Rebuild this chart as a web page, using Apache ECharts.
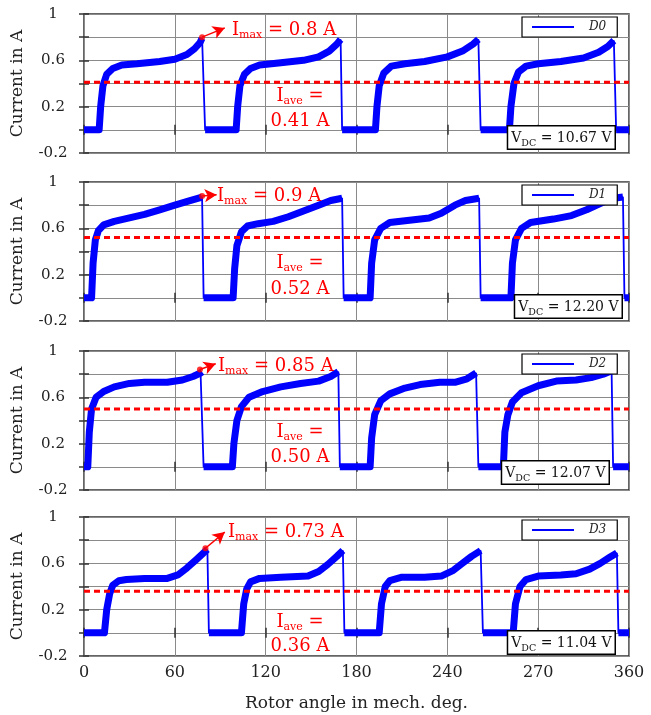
<!DOCTYPE html>
<html>
<head>
<meta charset="utf-8">
<script src="https://cdn.jsdelivr.net/npm/echarts@6/dist/echarts.min.js"></script>
<style>
  html, body { margin: 0; padding: 0; background: #fff; }
  #chart { width: 651px; height: 715px; }
</style>
</head>
<body>
<div id="chart"></div>
<script>
// phase currents, [rotor angle in deg, current in A]
const d0 = [[0, 0], [10, 0], [11, 0.2], [12.5, 0.38], [15, 0.48], [19, 0.53], [25, 0.56], [35, 0.57], [50, 0.59], [60, 0.61], [68, 0.65], [73, 0.7], [76.5, 0.75], [78, 0.79], [80, 0],
  [100.5, 0], [101.5, 0.2], [103, 0.38], [106, 0.48], [110, 0.53], [116, 0.56], [130, 0.58], [145, 0.6], [155, 0.63], [162, 0.68], [167, 0.74], [169.5, 0.78], [170.5, 0],
  [192.5, 0], [193.5, 0.2], [195, 0.38], [198, 0.49], [203, 0.55], [212, 0.57], [225, 0.59], [240, 0.63], [250, 0.68], [257, 0.74], [260.5, 0.78], [262, 0],
  [281, 0], [282, 0.2], [284, 0.4], [287, 0.5], [292, 0.55], [300, 0.57], [315, 0.59], [330, 0.62], [340, 0.67], [346, 0.72], [350, 0.77], [351.5, 0], [360, 0]]
const d1 = [[0, 0], [5, 0], [6, 0.3], [7.5, 0.5], [9.5, 0.58], [13, 0.63], [20, 0.66], [30, 0.69], [40, 0.72], [50, 0.76], [60, 0.8], [70, 0.84], [78, 0.87], [79, 0],
  [98.5, 0], [99.5, 0.25], [101, 0.45], [104, 0.57], [108, 0.62], [115, 0.64], [125, 0.66], [135, 0.7], [145, 0.75], [155, 0.8], [163, 0.84], [170.5, 0.86], [171.5, 0],
  [189, 0], [190, 0.3], [192, 0.5], [196, 0.6], [202, 0.65], [215, 0.67], [228, 0.69], [236, 0.73], [245, 0.8], [252, 0.84], [261, 0.86], [262, 0],
  [282, 0], [283, 0.3], [285, 0.5], [289, 0.6], [295, 0.65], [310, 0.68], [322, 0.71], [332, 0.76], [342, 0.82], [350, 0.86], [356, 0.87], [357, 0], [360, 0]]
const d2 = [[0, 0], [2.5, 0], [3.5, 0.3], [5, 0.5], [8, 0.6], [13, 0.65], [20, 0.69], [30, 0.72], [40, 0.73], [55, 0.73], [65, 0.75], [72, 0.78], [77, 0.81], [78, 0.82], [79, 0],
  [98, 0], [99, 0.2], [101, 0.4], [104, 0.52], [109, 0.6], [118, 0.65], [130, 0.69], [143, 0.72], [155, 0.74], [163, 0.78], [168, 0.82], [169, 0],
  [189, 0], [190, 0.25], [192, 0.45], [196, 0.57], [202, 0.63], [212, 0.68], [222, 0.71], [235, 0.73], [245, 0.73], [253, 0.76], [259, 0.81], [260.5, 0],
  [277, 0], [278, 0.3], [280, 0.45], [283, 0.56], [289, 0.64], [300, 0.7], [312, 0.74], [325, 0.75], [335, 0.77], [343, 0.8], [348.5, 0.83], [349.5, 0], [360, 0]]
const d3 = [[0, 0], [13.5, 0], [15, 0.2], [17, 0.34], [19, 0.41], [23, 0.45], [28, 0.46], [40, 0.47], [55, 0.47], [62, 0.5], [68, 0.56], [74, 0.63], [79, 0.69], [81.5, 0.72], [82.5, 0],
  [104, 0], [105.5, 0.25], [107.5, 0.38], [110, 0.44], [116, 0.47], [130, 0.48], [148, 0.49], [155, 0.53], [161, 0.59], [167, 0.66], [171, 0.71], [172, 0],
  [195, 0], [196.5, 0.25], [199, 0.4], [202, 0.45], [210, 0.48], [225, 0.48], [236, 0.49], [244, 0.54], [250, 0.6], [256, 0.66], [262, 0.71], [263.5, 0],
  [283.5, 0], [285, 0.25], [288, 0.4], [292, 0.46], [300, 0.49], [315, 0.5], [325, 0.51], [334, 0.55], [341, 0.6], [347, 0.65], [352, 0.69], [353, 0], [360, 0]]

const traces = [d0, d1, d2, d3]
const names = ['D0', 'D1', 'D2', 'D3']
const iMax = ['0.8', '0.9', '0.85', '0.73']
const iAve = [0.41, 0.52, 0.50, 0.36]
const iAveText = ['0.41', '0.52', '0.50', '0.36']
const vdc = ['10.67', '12.20', '12.07', '11.04']
const peakAt = [[78, 0.8], [78, 0.88], [76.6, 0.84], [80.2, 0.73]]
const arrowTo = [[93, 0.88], [87.6, 0.89], [87, 0.89], [93, 0.87]]
const xTicks = ['0', '60', '120', '180', '240', '270', '360']
const yTicks = ['-0.2', '0.2', '0.6', '1']

const FONT = 'DejaVu Serif'
const tops = [14, 182, 351, 517]
const gridH = 139
const imaxPos = [[232, 30], [217, 196], [218, 366], [228, 532]]
const iavePos = [[96, 121], [263, 289], [432, 457], [622, 646]]
const vdcPos = [[35, 125], [28, 294], [41, 460], [35, 630]]

// break the thick band at the falling edges so they stay thin
function band(data) {
  const out = []
  for (let k = 0; k < data.length; k++) {
    out.push(data[k])
    const next = data[k + 1]
    if (next && data[k][1] - next[1] > 0.3) out.push([data[k][0], null])
  }
  return out
}

const chart = echarts.init(document.getElementById('chart'))

const grid = [], xAxis = [], yAxis = [], series = [], legend = [], graphic = []

tops.forEach((top, i) => {
  grid.push({ left: 84, width: 545, top: top, height: gridH, show: true, borderColor: '#333', borderWidth: 1.5, backgroundColor: '#fff' })

  const tick = { show: true, inside: true, length: 5, lineStyle: { color: '#333', width: 1.5 } }
  xAxis.push({
    type: 'value', gridIndex: i, min: 0, max: 360, interval: 60,
    axisLine: { show: false }, axisTick: tick,
    splitLine: { show: true, lineStyle: { color: '#8a8a8a', width: 1 } },
    axisLabel: {
      show: i === 3, margin: 9, fontFamily: FONT, fontSize: 16, color: '#222',
      formatter: v => xTicks[Math.round(v / 60)]
    },
    name: i === 3 ? 'Rotor angle in mech. deg.' : '',
    nameLocation: 'middle', nameGap: 39,
    nameTextStyle: { fontFamily: FONT, fontSize: 17, color: '#222' }
  })
  xAxis.push({
    type: 'value', gridIndex: i, position: 'top', min: 0, max: 360, interval: 60,
    axisLine: { show: false }, axisTick: tick, axisLabel: { show: false }, splitLine: { show: false }
  })
  yAxis.push({
    type: 'value', gridIndex: i, min: -0.2, max: 1, interval: 0.2,
    axisLine: { show: false }, axisTick: tick,
    splitLine: { show: true, lineStyle: { color: '#8a8a8a', width: 1 } },
    axisLabel: {
      margin: 31, align: 'center', fontFamily: FONT, fontSize: 15, color: '#222',
      formatter: v => {
        const k = [-2, 2, 6, 10].indexOf(Math.round(v * 10))
        return k >= 0 ? yTicks[k] : ''
      }
    },
    name: 'Current in A', nameLocation: 'middle', nameGap: 58, nameRotate: 90,
    nameTextStyle: { fontFamily: FONT, fontSize: 17, color: '#222' }
  })
  yAxis.push({
    type: 'value', gridIndex: i, position: 'right', min: -0.2, max: 1, interval: 0.2,
    axisLine: { show: false }, axisTick: tick, axisLabel: { show: false }, splitLine: { show: false }
  })

  const xi = i * 2, yi = i * 2
  series.push({
    type: 'line', xAxisIndex: xi, yAxisIndex: yi, data: band(traces[i]),
    showSymbol: false, connectNulls: false, silent: true, z: 3,
    lineStyle: { color: '#0000ff', width: 7, cap: 'butt', join: 'round' }
  })
  series.push({
    name: names[i], type: 'line', xAxisIndex: xi, yAxisIndex: yi, data: traces[i],
    showSymbol: false, z: 3, itemStyle: { color: '#0000ff' },
    lineStyle: { color: '#0000ff', width: 1.8 }
  })
  series.push({
    type: 'line', xAxisIndex: xi, yAxisIndex: yi, data: [[0, iAve[i]], [360, iAve[i]]],
    showSymbol: false, silent: true, z: 4,
    lineStyle: { color: '#ff0000', width: 3, type: [6, 4] }
  })
  series.push({
    type: 'scatter', xAxisIndex: xi, yAxisIndex: yi, data: [peakAt[i]],
    symbolSize: 6, itemStyle: { color: '#ff0000' }, z: 6, silent: true,
    markLine: {
      silent: true, symbol: ['none', 'arrow'], symbolSize: [10, 12],
      label: { show: false },
      lineStyle: { color: '#ff0000', width: 1.5, type: 'solid' },
      data: [[{ coord: peakAt[i] }, { coord: arrowTo[i] }]]
    }
  })

  legend.push({
    data: [{ name: names[i], icon: 'rect' }],
    left: 522, top: top + 3, itemWidth: 42, itemHeight: 2, itemGap: 0,
    padding: [4, 11, 4, 10], backgroundColor: '#fff', borderColor: '#000', borderWidth: 1.2,
    borderRadius: 0, selectedMode: false,
    textStyle: { fontFamily: FONT, fontStyle: 'italic', fontSize: 12, color: '#222', padding: [0, 0, 0, 10] }
  })

  const red = { fill: '#ff0000', color: '#ff0000', fontFamily: FONT }
  graphic.push({
    type: 'text', x: imaxPos[i][0], y: imaxPos[i][1], z: 100,
    style: {
      text: '{a|I}{b|max}{a| = ' + iMax[i] + ' A}', verticalAlign: 'middle',
      rich: {
        a: Object.assign({ fontSize: 18, lineHeight: 22 }, red),
        b: Object.assign({ fontSize: 11, lineHeight: 11, verticalAlign: 'bottom' }, red)
      }
    }
  })
  graphic.push({
    type: 'text', x: 300, y: iavePos[i][0], z: 100,
    style: {
      text: '{a|I}{b|ave}{a| =}', align: 'center', verticalAlign: 'middle',
      rich: {
        a: Object.assign({ fontSize: 18, lineHeight: 22 }, red),
        b: Object.assign({ fontSize: 11, lineHeight: 11, verticalAlign: 'bottom' }, red)
      }
    }
  })
  graphic.push({
    type: 'text', x: 300, y: iavePos[i][1], z: 100,
    style: Object.assign({ text: iAveText[i] + ' A', fontSize: 18, align: 'center', verticalAlign: 'middle' }, red)
  })
  const blk = { fill: '#111', color: '#111', fontFamily: FONT }
  graphic.push({
    type: 'text', right: vdcPos[i][0], top: vdcPos[i][1], z: 100,
    style: {
      text: '{a|V}{b|DC}{a| = ' + vdc[i] + ' V}',
      backgroundColor: '#fff', borderColor: '#000', borderWidth: 1.5, padding: [1, 3, 0, 3],
      rich: {
        a: Object.assign({ fontSize: 14, lineHeight: 21 }, blk),
        b: Object.assign({ fontSize: 9.5, lineHeight: 10, verticalAlign: 'bottom' }, blk)
      }
    }
  })
})

chart.setOption({
  animation: false,
  grid: grid,
  xAxis: xAxis,
  yAxis: yAxis,
  legend: legend,
  series: series,
  graphic: graphic
})
</script>
</body>
</html>
